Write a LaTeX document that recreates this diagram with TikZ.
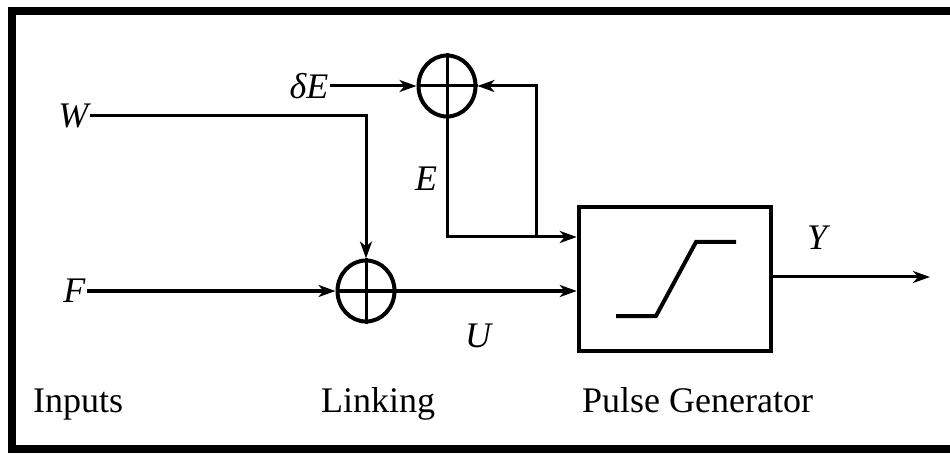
\documentclass[tikz,border=0pt]{standalone}
\usepackage{fontspec}
\setmainfont{Liberation Serif}
\usetikzlibrary{arrows.meta,shapes.geometric}
\begin{document}
\begin{tikzpicture}[x=1pt,y=-1pt,
  conn/.style={line width=3pt},
  arr/.style={conn,-{Stealth[length=17pt,width=12pt,inset=5pt]}},
  sumnode/.style={ellipse,draw,line width=4pt,minimum width=57pt,minimum height=61pt,inner sep=0pt},
  lbl/.style={font=\fontsize{36}{40}\selectfont\itshape,inner sep=1.5pt},
  caption/.style={font=\fontsize{36}{40}\selectfont,inner sep=0pt,anchor=base west},
  blockbox/.style={draw,line width=4.5pt,minimum width=192pt,minimum height=144pt,inner sep=0pt},
]
\useasboundingbox (0,0) rectangle (950,454);
\draw[line width=8pt,line join=miter] (950,11) -- (12,11) -- (12,449) -- (950,449);

% summing junctions
\node[sumnode] (sumU) at (366,291) {};
\node[sumnode] (sumE) at (447,86) {};
\draw[conn] (sumU.north) -- (sumU.south);
\draw[conn] (sumU.west) -- (sumU.east);
\draw[conn] (sumE.north) -- (sumE.south);
\draw[conn] (sumE.west) -- (sumE.east);

% pulse generator
\node[blockbox] (box) at (675,279) {};
\draw[line width=4pt] (616,316) -- (656,316) -- (696,242) -- (736,242);

% labels
\node[lbl,anchor=east] (Wl) at (90,116) {W};
\node[lbl,anchor=east] (Fl) at (87,291) {F};
\node[lbl,anchor=east] (dEl) at (330,86) {δE};
\node[lbl] (El) at (426,179) {E};
\node[lbl] (Ul) at (478,336) {U};
\node[lbl] (Yl) at (817,238) {Y};

\node[caption] (inputs) at (33,412) {Inputs};
\node[caption] (linking) at (321,412) {Linking};
\node[caption] (pulse) at (582,412) {Pulse Generator};

% connectors
\coordinate (ecorner) at (447,237);
\coordinate (fb) at (536,237);
\coordinate (yout) at (930,277);
\draw[arr] (Wl.east) -| (sumU.north);
\draw[arr] (Fl.east) -- (sumU.west);
\draw[arr] (sumU.east) -- (box.west |- sumU);
\draw[arr] (dEl.east) -- (sumE.west);
\draw[arr] (sumE.south) |- (box.west |- ecorner);
\draw[arr] (fb) |- (sumE.east);
\draw[arr] (box.east |- yout) -- (yout);
\end{tikzpicture}
\end{document}
